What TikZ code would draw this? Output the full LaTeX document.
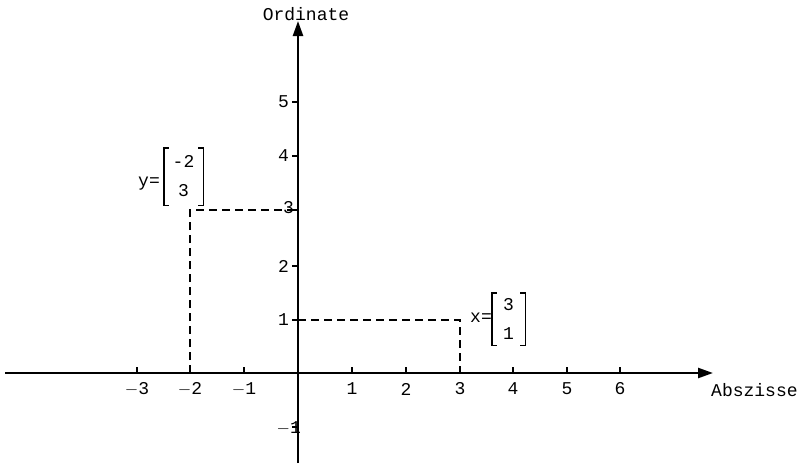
\documentclass[tikz,border=0pt]{standalone}
\usepackage{fontspec}
\setmonofont{Liberation Mono}
\usetikzlibrary{arrows.meta}
\tikzset{
  axis/.style={line width=2.4pt,-{Triangle[length=15pt,width=10pt]}},
  tick/.style={line width=1.3pt},
  guide/.style={line width=1.5pt,dash pattern=on 8pt off 5pt},
  lbl/.style={font=\ttfamily\fontsize{18}{21}\selectfont,inner sep=1pt},
  vcol/.style={font=\ttfamily\fontsize{18}{29}\selectfont,align=center,inner sep=0pt},
  brk/.style={line width=1.4pt},
}
\begin{document}
\begin{tikzpicture}[x=1pt,y=-1pt]
\useasboundingbox (0,0) rectangle (802,463);
\coordinate (O) at (298,373);
\coordinate (xs) at (5,373);
\coordinate (xe) at (713,373);
\coordinate (ys) at (298,463);
\coordinate (ye) at (298,21);
\draw[axis] (xs) -- (xe);
\draw[axis] (ys) -- (ye);
\node[lbl] (ord) at (306,14) {Ordinate};
\node[lbl,anchor=west] (abs) at (710,390) {Abszisse};
% x ticks
\foreach \v/\px in {-3/137,-2/190,-1/244,1/352,2/406,3/460,4/513,5/567,6/620}{
  \draw[tick] (\px,373) -- (\px,367);
  \node[lbl] (xl\v) at (\px,389) {\ifnum\v<0 $-$\number-\v\else\v\fi};
}
% y ticks
\foreach \v/\py in {1/320,2/266,3/210,4/156,5/102,-1/427}{
  \draw[tick] (298,\py) -- (292,\py);
}
\foreach \v/\py in {1/320,2/266,4/156,5/102}{
  \node[lbl,anchor=east] (yl\v) at (290,\py) {\v};
}
\node[lbl,anchor=east] (yl3) at (295,208) {3};
\node[lbl,anchor=east] (ylm1) at (302,428) {$-$1};
% dashed guides
\coordinate (ym2) at (190,373);
\coordinate (yp) at (190,210);
\coordinate (y3) at (298,210);
\coordinate (x1) at (298,320);
\coordinate (xp) at (460,320);
\coordinate (x3) at (460,373);
\draw[guide] (ym2) -- (yp) -- (y3);
\draw[guide] (x1) -- (xp) -- (x3);
% vector y
\node[lbl] (yeq) at (149,184) {y=};
\node[vcol,minimum width=39pt,minimum height=57pt] (ycol) at (183.5,176.5) {-2\\3};
\draw[brk] ([xshift=5pt]ycol.north west) -- (ycol.north west) -- (ycol.south west) -- ([xshift=5pt]ycol.south west);
\draw[brk] ([xshift=-5pt]ycol.north east) -- (ycol.north east) -- (ycol.south east) -- ([xshift=-5pt]ycol.south east);
% vector x
\node[lbl] (xeq) at (481,318) {x=};
\node[vcol,minimum width=33pt,minimum height=52pt] (xcol) at (508.5,319) {3\\1};
\draw[brk] ([xshift=5pt]xcol.north west) -- (xcol.north west) -- (xcol.south west) -- ([xshift=5pt]xcol.south west);
\draw[brk] ([xshift=-5pt]xcol.north east) -- (xcol.north east) -- (xcol.south east) -- ([xshift=-5pt]xcol.south east);
\end{tikzpicture}
\end{document}
